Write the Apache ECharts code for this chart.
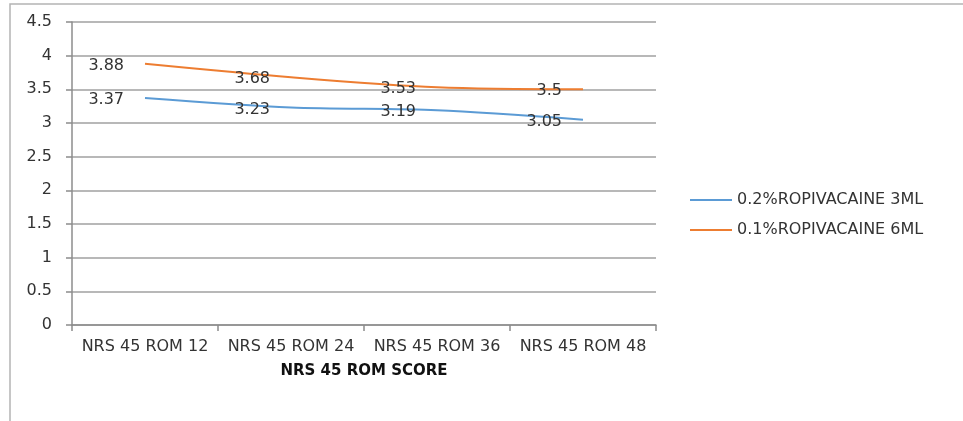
<!DOCTYPE html>
<html>
<head>
<meta charset="utf-8">
<script src="https://cdn.jsdelivr.net/npm/echarts@6/dist/echarts.min.js"></script>
<style>
html,body{margin:0;padding:0;background:#fff;}
#chart{width:963px;height:421px;}
</style>
</head>
<body>
<div id="chart"></div>
<script>
var categories = ["NRS 45 ROM 12", "NRS 45 ROM 24", "NRS 45 ROM 36", "NRS 45 ROM 48"];
var seriesNames = ["0.2%ROPIVACAINE 3ML", "0.1%ROPIVACAINE 6ML"];
var blueValues = [3.37, 3.23, 3.19, 3.05];
var orangeValues = [3.88, 3.68, 3.53, 3.5];
var yTicks = [0, 0.5, 1, 1.5, 2, 2.5, 3, 3.5, 4, 4.5];
var xAxisTitle = "NRS 45 ROM SCORE";

var FONT = "DejaVu Sans";
var chart = echarts.init(document.getElementById('chart'), null, {renderer: 'canvas'});

function mkSeries(name, data, color) {
  return {
    name: name,
    type: 'line',
    data: data,
    smooth: 0.3,
    symbol: 'circle',
    symbolSize: 2,
    showSymbol: true,
    lineStyle: {color: color, width: 2},
    itemStyle: {color: 'rgba(0,0,0,0)', borderWidth: 0},
    label: {
      show: true,
      position: 'left',
      distance: 20,
      color: '#333',
      fontFamily: FONT,
      fontSize: 16,
      offset: [0, 2]
    }
  };
}

chart.setOption({
  animation: false,
  backgroundColor: '#fff',
  graphic: [{
    type: 'rect',
    shape: {x: 10, y: 4, width: 1000, height: 500},
    style: {fill: 'none', stroke: '#b4b4b4', lineWidth: 1.5},
    silent: true,
    z: 0
  }],
  grid: {left: 72, right: 307, top: 22, bottom: 96, containLabel: false},
  legend: {
    orient: 'vertical',
    left: 685,
    top: 187,
    icon: 'rect',
    itemWidth: 42,
    itemHeight: 2,
    itemGap: 14,
    textStyle: {fontFamily: FONT, fontSize: 16, color: '#333'},
    data: [
      {name: seriesNames[0], itemStyle: {color: '#5B9BD5', opacity: 1}},
      {name: seriesNames[1], itemStyle: {color: '#ED7D31', opacity: 1}}
    ]
  },
  xAxis: {
    type: 'category',
    data: categories,
    boundaryGap: true,
    name: xAxisTitle,
    nameLocation: 'middle',
    nameGap: 39,
    nameTextStyle: {fontFamily: FONT, fontSize: 15, fontWeight: 'bold', color: '#111'},
    axisLine: {lineStyle: {color: '#8c8c8c', width: 1.5}},
    axisTick: {show: true, length: 6, lineStyle: {color: '#8c8c8c', width: 1.5}},
    axisLabel: {interval: 0, fontFamily: FONT, fontSize: 16, color: '#333', margin: 14},
    splitLine: {show: false}
  },
  yAxis: {
    type: 'value',
    min: 0,
    max: 4.5,
    interval: 0.5,
    axisLine: {show: true, lineStyle: {color: '#8c8c8c', width: 1.5}},
    axisTick: {show: true, length: 6, lineStyle: {color: '#8c8c8c', width: 1.5}},
    axisLabel: {
      fontFamily: FONT, fontSize: 16, color: '#333', margin: 20,
      formatter: function (v) { return String(v); }
    },
    splitLine: {show: true, lineStyle: {color: '#a0a0a0', width: 1.5}}
  },
  series: [
    mkSeries(seriesNames[0], blueValues, '#5B9BD5'),
    mkSeries(seriesNames[1], orangeValues, '#ED7D31')
  ]
});
</script>
</body>
</html>
